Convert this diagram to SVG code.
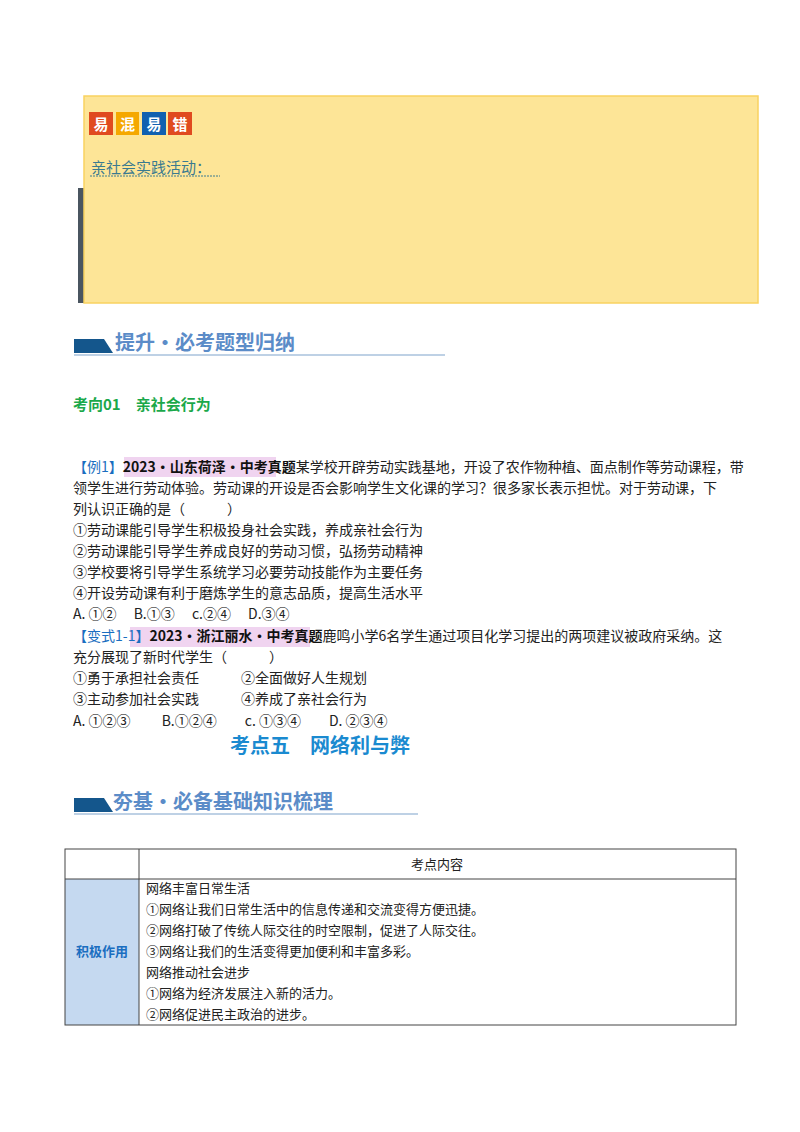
<svg xmlns="http://www.w3.org/2000/svg" width="800" height="1132" viewBox="0 0 800 1132">
<style>
text{font-family:"Noto Sans CJK SC","Liberation Serif",serif;}
.b{font-size:14px;fill:#222}
.t{font-size:13px;fill:#222}
.badge{font-size:15px;fill:#fff;font-weight:bold}
.hd{font-size:20px;font-weight:bold;fill:#5b8cc8}
.blue{fill:#1a6ec0}
.bold{font-weight:bold;fill:#111}
</style>
<rect width="800" height="1132" fill="#fff"/>
<g id="tip">
<rect x="78" y="188" width="6" height="115" fill="#4a5560"/>
<rect x="84" y="96" width="674" height="207" fill="#fde597" stroke="#f9d260" stroke-width="1.5"/>
<rect x="89" y="112" width="24" height="23" fill="#e04a1f"/>
<rect x="116" y="112" width="23" height="23" fill="#f5a800"/>
<rect x="142" y="112" width="24" height="23" fill="#1060b0"/>
<rect x="168" y="112" width="24" height="23" fill="#e04a1f"/>
<text class="badge" x="101" y="130" text-anchor="middle">易</text>
<text class="badge" x="127.5" y="130" text-anchor="middle">混</text>
<text class="badge" x="154" y="130" text-anchor="middle">易</text>
<text class="badge" x="180" y="130" text-anchor="middle">错</text>
<text x="91" y="173" font-size="15" fill="#3a7a90">亲社会实践活动：</text>
<line x1="90" y1="176" x2="220" y2="176" stroke="#3a7a90" stroke-dasharray="2,1"/>
</g>
<g id="header1">
<polygon points="74,339 104,339 113,353 74,353" fill="#14568c"/>
<text class="hd" x="115" y="350">提升·必考题型归纳</text>
<line x1="74" y1="355" x2="445" y2="355" stroke="#a9c2dc" stroke-width="1.5"/>
</g>
<text x="73" y="410" font-size="15" font-weight="bold" fill="#1aa84a">考向01　亲社会行为</text>
<g id="example">
<rect x="124" y="457" width="152" height="20" fill="#f0d4f0"/>
<text class="b" x="73" y="472"><tspan class="blue">【例1】</tspan><tspan class="bold">2023·山东荷泽·中考真题</tspan>某学校开辟劳动实践基地，开设了农作物种植、面点制作等劳动课程，带</text>
<text class="b" x="73" y="493">领学生进行劳动体验。劳动课的开设是否会影响学生文化课的学习？很多家长表示担忧。对于劳动课，下</text>
<text class="b" x="73" y="514">列认识正确的是（　　　）</text>
<text class="b" x="73" y="535">①劳动课能引导学生积极投身社会实践，养成亲社会行为</text>
<text class="b" x="73" y="556">②劳动课能引导学生养成良好的劳动习惯，弘扬劳动精神</text>
<text class="b" x="73" y="577">③学校要将引导学生系统学习必要劳动技能作为主要任务</text>
<text class="b" x="73" y="598">④开设劳动课有利于磨炼学生的意志品质，提高生活水平</text>
<text class="b" x="73" y="619">A. ①②　 B.①③　 c.②④　 D.③④</text>
<rect x="130" y="627" width="180" height="20" fill="#f0d4f0"/>
<text class="b" x="73" y="641"><tspan class="blue">【变式1-1】</tspan><tspan class="bold">2023·浙江丽水·中考真题</tspan>鹿鸣小学6名学生通过项目化学习提出的两项建议被政府采纳。这</text>
<text class="b" x="73" y="662">充分展现了新时代学生（　　　）</text>
<text class="b" x="73" y="683">①勇于承担社会责任　　　②全面做好人生规划</text>
<text class="b" x="73" y="704">③主动参加社会实践　　　④养成了亲社会行为</text>
<text class="b" x="73" y="726">A. ①②③　　 B.①②④　　c. ①③④　　D. ②③④</text>
</g>
<text x="320" y="753" font-size="20" font-weight="bold" fill="#1a8ad0" text-anchor="middle">考点五　网络利与弊</text>
<g id="header2">
<polygon points="74,798 104,798 113,812 74,812" fill="#14568c"/>
<text class="hd" x="113" y="809">夯基·必备基础知识梳理</text>
<line x1="74" y1="814" x2="418" y2="814" stroke="#a9c2dc" stroke-width="1.5"/>
</g>
<g id="table">
<rect x="65" y="879" width="74" height="146" fill="#c5d9f0"/>
<rect x="65" y="849" width="671" height="176" fill="none" stroke="#444" stroke-width="1"/>
<line x1="139" y1="849" x2="139" y2="1025" stroke="#444"/>
<line x1="65" y1="879" x2="736" y2="879" stroke="#444"/>
<text class="t" x="437" y="869" text-anchor="middle">考点内容</text>
<text x="102" y="956" font-size="13" font-weight="bold" fill="#1a6ec0" text-anchor="middle">积极作用</text>
<text class="t" x="146" y="893">网络丰富日常生活</text>
<text class="t" x="146" y="914">①网络让我们日常生活中的信息传递和交流变得方便迅捷。</text>
<text class="t" x="146" y="935">②网络打破了传统人际交往的时空限制，促进了人际交往。</text>
<text class="t" x="146" y="956">③网络让我们的生活变得更加便利和丰富多彩。</text>
<text class="t" x="146" y="977">网络推动社会进步</text>
<text class="t" x="146" y="998">①网络为经济发展注入新的活力。</text>
<text class="t" x="146" y="1019">②网络促进民主政治的进步。</text>
</g>
</svg>
